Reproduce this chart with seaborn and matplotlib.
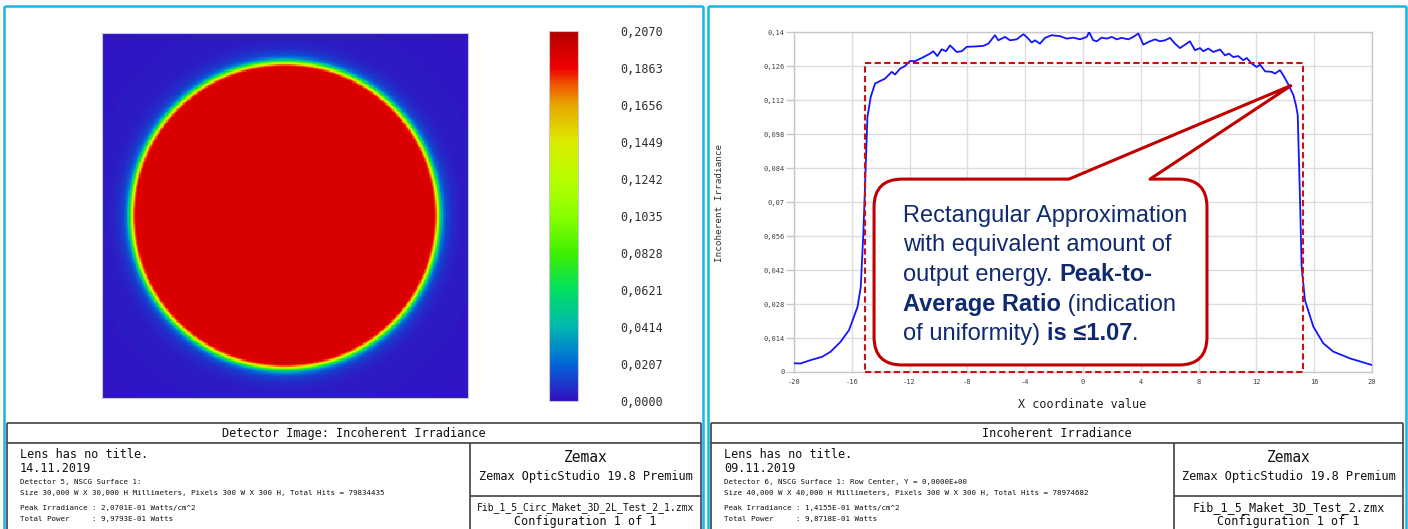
import numpy as np
import pandas as pd
import seaborn as sns
import matplotlib
matplotlib.use('Agg')
from matplotlib import pyplot as plt
from matplotlib.colors import LinearSegmentedColormap
from matplotlib.patches import FancyBboxPatch, Polygon, Rectangle
from matplotlib.lines import Line2D

W, H = 1408, 529

# --- right panel: row profile through the detector ---
x_mm = [-20, -19.55, -18.85, -18.04, -17.46, -16.77, -16.19, -15.6, -15.38, -15.2,
        -15.04, -14.92, -14.69,
        -14.39, -13.70, -13.24, -13.01, -12.66, -12.32, -11.97, -11.63, -11.16, -10.59,
        -10.36, -10.08, -9.78, -9.48, -9.20, -8.74, -8.39, -8.05, -7.36, -6.90,
        -6.55, -6.32, -6.09, -5.86, -5.40, -5.05, -4.59, -4.13, -3.90, -3.55,
        -3.32, -2.98, -2.63, -2.17, -1.59, -1.13, -0.67, -0.21,
        0.26, 0.42, 0.71, 0.95, 1.29, 1.64, 1.99, 2.33, 2.68, 3.14,
        3.48, 3.83, 4.18, 4.52, 4.98, 5.33, 5.67, 6.02, 6.37, 6.71,
        7.06, 7.40, 7.75, 8.10, 8.33, 8.67, 9.02, 9.48, 9.83, 10.10,
        10.40, 10.75, 11.09, 11.33, 11.68, 12.02, 12.25, 12.60, 13.06, 13.29,
        13.63, 13.86, 14.21, 14.56, 14.74, 14.86,
        15.02, 15.13, 15.36, 15.94, 16.63, 17.32, 18.48, 19.98]
irradiance = [0.0036, 0.0035, 0.0049, 0.0063, 0.0084, 0.0125, 0.0173, 0.0269, 0.0351, 0.0572,
              0.0845, 0.105, 0.1134,
              0.1189, 0.1209, 0.1237, 0.1226, 0.1250, 0.1261, 0.1282, 0.1281, 0.1294, 0.1312,
              0.1322, 0.1302, 0.1330, 0.1322, 0.1346, 0.1319, 0.1322, 0.1340, 0.1342, 0.1344,
              0.1353, 0.1371, 0.1388, 0.1367, 0.1381, 0.1367, 0.1371, 0.1392, 0.1381, 0.1358,
              0.1367, 0.1353, 0.1377, 0.1388, 0.1384, 0.1374, 0.1378, 0.1371,
              0.1381, 0.1401, 0.1367, 0.1363, 0.1378, 0.1374, 0.1381, 0.1371, 0.1377, 0.1371,
              0.1381, 0.1395, 0.1349, 0.1360, 0.1371, 0.1363, 0.1367, 0.1377, 0.1353, 0.1335,
              0.1349, 0.1363, 0.1326, 0.1335, 0.1322, 0.1333, 0.1319, 0.1329, 0.1305, 0.1312,
              0.1298, 0.1302, 0.1285, 0.1294, 0.1271, 0.1257, 0.1267, 0.1239, 0.1237, 0.1230,
              0.1244, 0.1223, 0.1185, 0.1141, 0.1099, 0.1058,
              0.0708, 0.0434, 0.0296, 0.0187, 0.0118, 0.0084, 0.0056, 0.0029]
assert len(x_mm) == len(irradiance)

xtick_vals = [-20, -16, -12, -8, -4, 0, 4, 8, 12, 16, 20]
ytick_vals = [0, 0.014, 0.028, 0.042, 0.056, 0.07, 0.084, 0.098, 0.112, 0.126, 0.14]
ytick_labels = ['0', '0,014', '0,028', '0,042', '0,056', '0,07', '0,084', '0,098',
                '0,112', '0,126', '0,14']

# rectangular approximation and callout (data units)
rect_x = [-15.1, 15.2]
rect_top = 0.1275
callout_box = [-14.46, 0.0029, 8.58, 0.0795]   # x0, y0, x1, y1
callout_base = [-0.97, 4.64]
callout_tip = [14.44, 0.1182]

# --- left panel: detector image, radial profile ---
radial_r = [0, 12.2, 12.4, 12.55, 12.7, 12.85, 13.0, 13.3, 13.8, 14.5, 21.5]
radial_v = [0.194, 0.193, 0.175, 0.13, 0.08, 0.045, 0.025, 0.012, 0.006, 0.003, 0.001]
det_half = 15.0
det_pixels = 300

cbar_max = 0.207
cbar_ticks = [0, 0.0207, 0.0414, 0.0621, 0.0828, 0.1035, 0.1242, 0.1449, 0.1656, 0.1863, 0.2070]
cbar_labels = ['0,0000', '0,0207', '0,0414', '0,0621', '0,0828', '0,1035', '0,1242',
               '0,1449', '0,1656', '0,1863', '0,2070']

cmap_stops = [(0.0, '#3210c0'), (0.1, '#0068d8'), (0.2, '#00b8b0'), (0.3, '#00e060'),
              (0.4, '#40f000'), (0.5, '#88ff00'), (0.6, '#b8ff00'), (0.7, '#dcec00'),
              (0.8, '#e8a800'), (0.86, '#f05000'), (0.9, '#ee0000'), (1.0, '#b40000')]

info_left = {
    'title': 'Detector Image: Incoherent Irradiance',
    'date': '14.11.2019',
    'lines': ['Detector 5, NSCG Surface 1:',
              'Size 30,000 W X 30,000 H Millimeters, Pixels 300 W X 300 H, Total Hits = 79834435',
              'Peak Irradiance : 2,0701E-01 Watts/cm^2',
              'Total Power     : 9,9793E-01 Watts'],
    'file': 'Fib_1_5_Circ_Maket_3D_2L_Test_2_1.zmx',
    'file_size': 7.0,
}
info_right = {
    'title': 'Incoherent Irradiance',
    'date': '09.11.2019',
    'lines': ['Detector 6, NSCG Surface 1: Row Center, Y = 0,0000E+00',
              'Size 40,000 W X 40,000 H Millimeters, Pixels 300 W X 300 H, Total Hits = 78974682',
              'Peak Irradiance : 1,4155E-01 Watts/cm^2',
              'Total Power     : 9,8718E-01 Watts'],
    'file': 'Fib_1_5_Maket_3D_Test_2.zmx',
    'file_size': 8.5,
}

sns.set_style('white')
plt.rcParams['font.family'] = ['DejaVu Sans Mono', 'DejaVu Sans']
mono = ['DejaVu Sans Mono', 'DejaVu Sans']
sans = ['Liberation Sans', 'DejaVu Sans']
navy = '#0f2a6e'
red = '#c00000'
cyan = '#17b4ea'
dark = '#404040'

fig = plt.figure(figsize=(W / 100, H / 100), dpi=100)


def fx(x):
    return x / W


def fy(y):
    return 1 - y / H


def box(x0, y0, x1, y1):
    return [fx(x0), fy(y1), (x1 - x0) / W, (y1 - y0) / H]


def fig_line(x0, y0, x1, y1, color=dark, lw=1.0):
    fig.add_artist(Line2D([fx(x0), fx(x1)], [fy(y0), fy(y1)], transform=fig.transFigure,
                          color=color, lw=lw, solid_capstyle='butt'))


# ---------------- detector image ----------------
cmap = LinearSegmentedColormap.from_list('zemax', cmap_stops)
centers = np.linspace(-det_half, det_half, det_pixels)
xx, yy = np.meshgrid(centers, centers)
img = np.interp(np.hypot(xx, yy), radial_r, radial_v)

ax_img = fig.add_axes(box(101.5, 32.7, 468.3, 398.3))
cax = fig.add_axes(box(549.3, 31, 578.3, 400.7))
sns.heatmap(img, ax=ax_img, cbar_ax=cax, cmap=cmap, vmin=0, vmax=cbar_max,
            xticklabels=False, yticklabels=False, rasterized=True,
            cbar_kws={'ticks': cbar_ticks})
for sp in ax_img.spines.values():
    sp.set_visible(True)
    sp.set_edgecolor('#c8c8c8')
    sp.set_linewidth(0.8)
cbar = ax_img.collections[0].colorbar
cbar.outline.set_edgecolor('#c8c8c8')
cbar.outline.set_linewidth(0.8)
cax.set_yticklabels(cbar_labels)
cax.tick_params(length=0, pad=30, labelsize=8.5, labelcolor='#303030')
for t in cax.get_yticklabels():
    t.set_family(mono)

# ---------------- profile plot ----------------
ax = fig.add_axes(box(794, 32.3, 1372, 372))
df = pd.DataFrame({'x': x_mm, 'irr': irradiance})
sns.lineplot(data=df, x='x', y='irr', ax=ax, color='#1414ff', lw=1.3, zorder=4)
ax.set_xlim(-20, 20)
ax.set_ylim(0, 0.14)
ax.set_xticks(xtick_vals)
ax.set_xticklabels([str(v) for v in xtick_vals])
ax.set_yticks(ytick_vals)
ax.set_yticklabels(ytick_labels)
ax.set_xlabel('')
ax.set_ylabel('')
ax.grid(True, color='#dddddd', lw=1.0)
ax.set_axisbelow(True)
for sp in ax.spines.values():
    sp.set_visible(True)
    sp.set_edgecolor('#c8c8c8')
    sp.set_linewidth(1.0)
ax.tick_params(axis='y', length=5.8, width=1.0, color='#c8c8c8', pad=1,
               labelsize=5, labelcolor=dark, left=True)
ax.tick_params(axis='x', length=0, pad=4.7, labelsize=5, labelcolor=dark)

fig.text(fx(720), fy(202.5), 'Incoherent Irradiance', rotation=90, ha='center', va='center',
         fontsize=6.7, color='#303030', family=mono)
fig.text(fx(1082), fy(405), 'X coordinate value', ha='center', va='center',
         fontsize=8.5, color='#202020', family=mono)

# rectangular approximation
ax.add_patch(Rectangle((rect_x[0], 0), rect_x[1] - rect_x[0], rect_top, fill=False,
                       ec='#cc1010', lw=1.5, ls=(0, (3, 1.6)), zorder=5, clip_on=False))

# callout with pointer
fig.canvas.draw()
bb = ax.get_window_extent()
asp = (0.14 / bb.height) / (40.0 / bb.width)
cx0, cy0, cx1, cy1 = callout_box
ax.add_patch(FancyBboxPatch((cx0, cy0), cx1 - cx0, cy1 - cy0,
                            boxstyle='round,pad=0,rounding_size=1.94', mutation_aspect=asp,
                            fc='white', ec=red, lw=2.2, zorder=6))
gap = 0.0016
ax.add_patch(Polygon([(callout_base[0], cy1 - gap), (callout_base[0], cy1), tuple(callout_tip),
                      (callout_base[1], cy1), (callout_base[1], cy1 - gap)],
                     closed=True, fc='white', ec='none', zorder=7))
ax.plot([callout_base[0], callout_tip[0], callout_base[1]], [cy1, callout_tip[1], cy1],
        color=red, lw=2.2, zorder=8, solid_joinstyle='miter')

renderer = fig.canvas.get_renderer()


def text_width(s, bold):
    t = fig.text(0, 0, s + '|', fontsize=17, weight='bold' if bold else 'normal', family=sans)
    p = fig.text(0, 0, '|', fontsize=17, weight='bold' if bold else 'normal', family=sans)
    w = t.get_window_extent(renderer).width - p.get_window_extent(renderer).width
    t.remove()
    p.remove()
    return w


callout_lines = [
    [('Rectangular Approximation', False)],
    [('with equivalent amount of', False)],
    [('output energy. ', False), ('Peak-to-', True)],
    [('Average Ratio', True), (' (indication', False)],
    [('of uniformity) ', False), ('is \u22641.07', True), ('.', False)],
]
for i, parts in enumerate(callout_lines):
    xpos = 903
    ypos = 222 + i * 29.5
    for s, bold in parts:
        fig.text(fx(xpos), fy(ypos), s, fontsize=17, weight='bold' if bold else 'normal',
                 color=navy, family=sans, va='baseline', ha='left', zorder=10)
        xpos += text_width(s, bold)

# ---------------- info tables and panel frames ----------------
def info_table(x0, x1, info):
    split = x0 + 463
    fig_line(x0, 423, x1, 423, lw=1.2)
    fig_line(x0, 443, x1, 443, lw=1.2)
    fig_line(x0, 423, x0, 529, lw=1.2)
    fig_line(x1, 423, x1, 529, lw=1.2)
    fig_line(split, 443, split, 529, lw=1.2)
    fig_line(split, 496, x1, 496, lw=1.2)
    fig.text(fx((x0 + x1) / 2), fy(433.5), info['title'], ha='center', va='center',
             fontsize=8.6, color='#111111', family=mono)
    fig.text(fx(x0 + 13), fy(454), 'Lens has no title.', ha='left', va='center',
             fontsize=8.5, color='#111111', family=mono)
    fig.text(fx(x0 + 13), fy(468), info['date'], ha='left', va='center',
             fontsize=8.5, color='#111111', family=mono)
    for y, s in zip([481.7, 493.3, 508.3, 519.3], info['lines']):
        fig.text(fx(x0 + 13), fy(y), s, ha='left', va='center',
                 fontsize=5.4, color='#111111', family=mono)
    mid = (split + x1) / 2
    fig.text(fx(mid), fy(458), 'Zemax', ha='center', va='center',
             fontsize=10.5, color='#111111', family=mono)
    fig.text(fx(mid), fy(476.7), 'Zemax OpticStudio 19.8 Premium', ha='center', va='center',
             fontsize=8.6, color='#111111', family=mono)
    fig.text(fx(mid), fy(508), info['file'], ha='center', va='center',
             fontsize=info['file_size'], color='#111111', family=mono)
    fig.text(fx(mid), fy(521.7), 'Configuration 1 of 1', ha='center', va='center',
             fontsize=8.5, color='#111111', family=mono)


info_table(7, 701, info_left)
info_table(711, 1403, info_right)

for x0, x1 in [(4, 703), (708, 1406)]:
    fig_line(x0, 6, x1, 6, color=cyan, lw=1.8)
    fig_line(x0, 6, x0, 529, color=cyan, lw=1.8)
    fig_line(x1, 6, x1, 529, color=cyan, lw=1.8)

fig.savefig('out.png', dpi=100)
